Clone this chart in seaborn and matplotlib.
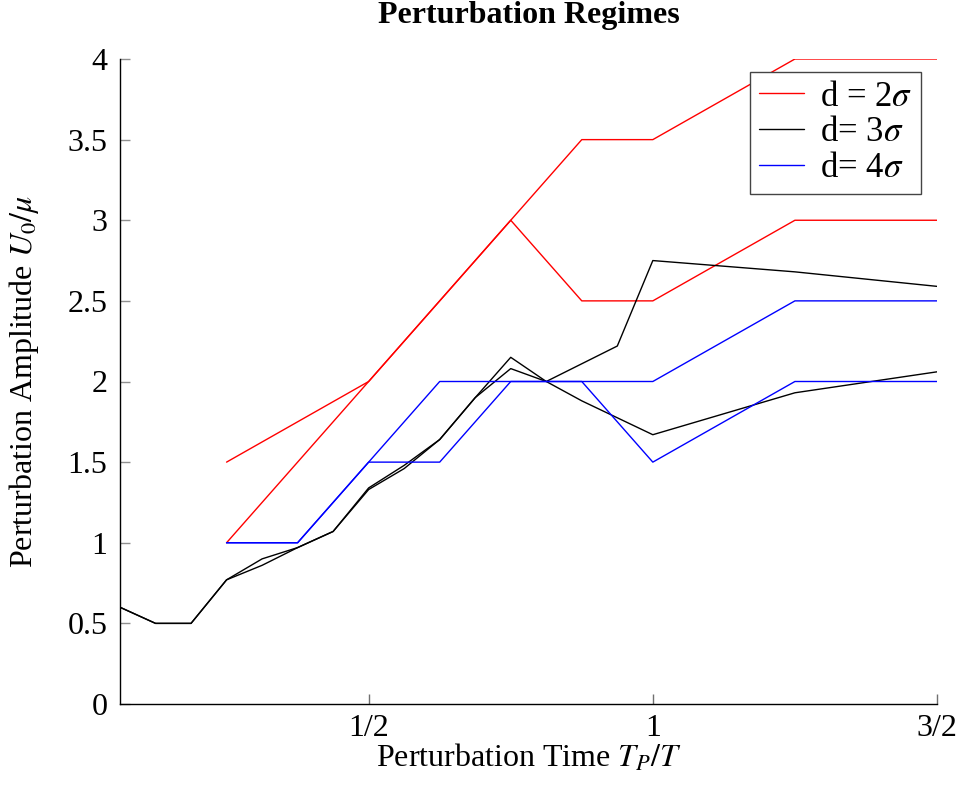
import numpy as np
import pandas as pd
import matplotlib
matplotlib.use("Agg")
import matplotlib.pyplot as plt
import seaborn as sns

# ---------------- data ----------------
red_a_x = [0.25, 0.5, 0.75, 0.875, 1.0, 1.25, 1.5]
red_a_y = [1.5, 2.0, 3.0, 3.5, 3.5, 4.0, 4.0]
red_b_x = [0.25, 0.5, 0.75, 0.875, 1.0, 1.25, 1.5]
red_b_y = [1.0, 2.0, 3.0, 2.5, 2.5, 3.0, 3.0]

black_a_x = [0.0625, 0.125, 0.1875, 0.25, 0.3125, 0.375, 0.4375, 0.5, 0.5625,
             0.625, 0.6875, 0.75, 0.8125, 0.875, 0.9375, 1.0, 1.25, 1.5]
black_a_y = [0.6, 0.5, 0.5, 0.77, 0.9, 0.97, 1.07, 1.34, 1.48,
             1.64, 1.9, 2.15, 2.0, 2.11, 2.22, 2.75, 2.68, 2.59]
black_b_x = [0.0625, 0.125, 0.1875, 0.25, 0.3125, 0.375, 0.4375, 0.5, 0.5625,
             0.625, 0.6875, 0.75, 0.8125, 0.875, 1.0, 1.25, 1.5]
black_b_y = [0.6, 0.5, 0.5, 0.77, 0.86, 0.97, 1.07, 1.33, 1.46,
             1.64, 1.9, 2.08, 2.0, 1.88, 1.67, 1.93, 2.06]

blue_a_x = [0.25, 0.375, 0.5, 0.625, 0.75, 0.875, 1.0, 1.25, 1.5]
blue_a_y = [1.0, 1.0, 1.5, 1.5, 2.0, 2.0, 1.5, 2.0, 2.0]
blue_b_x = [0.25, 0.375, 0.625, 0.75, 0.875, 1.0, 1.25, 1.5]
blue_b_y = [1.0, 1.0, 2.0, 2.0, 2.0, 2.0, 2.5, 2.5]

series_labels = [r"d = 2$\sigma$", r"d= 3$\sigma$", r"d= 4$\sigma$"]
series_colors = ["#ff0000", "#000000", "#0000ff"]

x_ticks = [0.5, 1.0, 1.5]
x_tick_labels = ["1/2", "1", "3/2"]
y_ticks = [0, 0.5, 1, 1.5, 2, 2.5, 3, 3.5, 4]
y_tick_labels = ["0", "0.5", "1", "1.5", "2", "2.5", "3", "3.5", "4"]

# ---------------- long table ----------------
runs = [
    (series_labels[0], "r1", red_a_x, red_a_y),
    (series_labels[0], "r2", red_b_x, red_b_y),
    (series_labels[1], "k1", black_a_x, black_a_y),
    (series_labels[1], "k2", black_b_x, black_b_y),
    (series_labels[2], "b1", blue_a_x, blue_a_y),
    (series_labels[2], "b2", blue_b_x, blue_b_y),
]
frames = []
for lab, run, xs, ys in runs:
    frames.append(pd.DataFrame({"x": xs, "y": ys, "d": lab, "run": run}))
df = pd.concat(frames, ignore_index=True)

# ---------------- style ----------------
sns.set_theme(style="white")
plt.rcParams["font.family"] = ["Liberation Serif", "DejaVu Serif"]
plt.rcParams["mathtext.fontset"] = "stix"
plt.rcParams["text.color"] = "black"
plt.rcParams["axes.labelcolor"] = "black"

FS = 23

fig = plt.figure(figsize=(9.65, 7.87), dpi=100)
ax = fig.add_axes([120 / 965, 1 - 704 / 787, (937 - 120) / 965, (704 - 59) / 787])

sns.lineplot(data=df, x="x", y="y", hue="d", units="run", estimator=None,
             palette=dict(zip(series_labels, series_colors)),
             hue_order=series_labels, linewidth=1.0, sort=False, ax=ax)

ax.set_xlim(0.0625, 1.5)
ax.set_ylim(0, 4)
ax.set_xticks(x_ticks)
ax.set_xticklabels(x_tick_labels)
ax.set_yticks(y_ticks)
ax.set_yticklabels(y_tick_labels)

for s in ["top", "right"]:
    ax.spines[s].set_visible(False)
for s in ["left", "bottom"]:
    ax.spines[s].set_color("black")
    ax.spines[s].set_linewidth(1.0)

ax.tick_params(axis="both", bottom=True, left=True, top=False, right=False,
               direction="in", length=7.5, width=1.0,
               labelcolor="black", labelsize=FS)
ax.tick_params(axis="x", colors="#707070", labelcolor="black", pad=7)
ax.tick_params(axis="y", colors="#909090", labelcolor="black", pad=9)

ax.set_xlabel(r"Perturbation Time $T_P/T$", fontsize=FS, labelpad=0, color="black")
ax.set_ylabel(r"Perturbation Amplitude $U_0/\mu$", fontsize=FS, labelpad=19, color="black")
ax.set_title("Perturbation Regimes", fontsize=FS, fontweight="bold", pad=26, color="black")

handles, labels = ax.get_legend_handles_labels()
leg = ax.legend(handles, labels, loc="upper right", bbox_to_anchor=(0.98, 0.98),
                borderaxespad=0, fontsize=25, frameon=True, fancybox=False,
                handlelength=1.3, handletextpad=0.45, labelspacing=0.08,
                borderpad=0.25, framealpha=1.0)
leg.get_frame().set_edgecolor("#444444")
leg.get_frame().set_linewidth(1.0)
for t in leg.get_texts():
    t.set_color("black")
for h in leg.get_lines():
    h.set_linewidth(1.0)

fig.savefig("out.png", dpi=100)
